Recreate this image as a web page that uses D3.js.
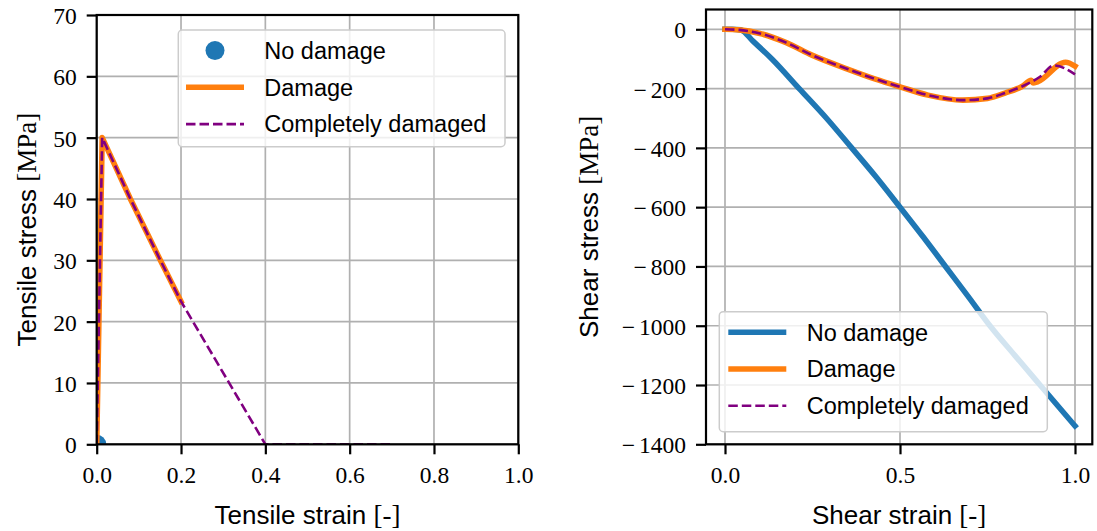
<!DOCTYPE html>
<html>
<head>
<meta charset="utf-8">
<script src="https://cdn.jsdelivr.net/npm/d3@7"></script>
<style>
    body { margin: 0; background: #fff; }
    .tick text { font-family: "Liberation Serif", serif; font-size: 23.5px; fill: #000; }
    .lbl { font-family: "Liberation Sans", sans-serif; font-size: 23.5px; fill: #000; }
    .axlbl { font-size: 26px; }
    .math { font-family: "Liberation Serif", serif; font-size: 27px; }
</style>
</head>
<body>
<script>
(function() {

    const width = 1097;
    const height = 531;

    // tensile test (left panel)
    const tensileStrainNoDamage = [0];
    const tensileStressNoDamage = [0];
    const tensileStrainDamage = [0, 0.013, 0.08, 0.151, 0.2];
    const tensileStressDamage = [0, 50, 40, 30, 23.3];
    const tensileStrainComplete = [0, 0.013, 0.08, 0.151, 0.2, 0.4, 0.7];
    const tensileStressComplete = [0, 50, 40, 30, 23.3, 0, 0];
    const tensileXTicks = [0, 0.2, 0.4, 0.6, 0.8, 1.0];
    const tensileYTicks = [0, 10, 20, 30, 40, 50, 60, 70];

    // shear test (right panel)
    const shearStrainNoDamage = [0, 0.02, 0.045, 0.08, 0.134, 0.212, 0.29, 0.362, 0.433, 0.5, 0.566, 0.63, 0.694, 0.757, 0.828, 0.9, 1.0];
    const shearStressNoDamage = [0, 0, -2, -40, -100, -200, -300, -400, -500, -600, -700, -800, -900, -1000, -1100, -1200, -1338];
    const shearStrainDamage = [0, 0.04, 0.1, 0.175, 0.25, 0.35, 0.43, 0.5, 0.58, 0.68, 0.75, 0.8, 0.85, 0.875, 0.88, 0.893, 0.973, 1.0];
    const shearStressDamage = [0, -2, -14, -45, -88, -134, -168, -194, -222, -239, -233, -215, -192, -172, -181, -177, -111, -124];
    const shearStrainComplete = [0, 0.04, 0.1, 0.175, 0.25, 0.35, 0.43, 0.5, 0.58, 0.68, 0.75, 0.8, 0.85, 0.9, 0.94, 1.0];
    const shearStressComplete = [0, -2, -14, -45, -88, -134, -168, -194, -222, -239, -233, -215, -192, -160, -122, -152];
    const shearXTicks = [0, 0.5, 1.0];
    const shearYTicks = [0, -200, -400, -600, -800, -1000, -1200, -1400];

    const seriesNames = ["No damage", "Damage", "Completely damaged"];
    const blue = "#1f77b4", orange = "#ff7f0e", purple = "#800080";

    const svg = d3.select("body")
        .append("svg")
        .attr("width", width)
        .attr("height", height);

    function zip(xs, ys) {
        return xs.map((v, i) => [v, ys[i]]);
    }

    function makePanel(opts) {
        const b = opts.box;
        const x = d3.scaleLinear().domain(opts.xDomain).range([b.x0, b.x1]);
        const y = d3.scaleLinear().domain(opts.yDomain).range([b.y1, b.y0]);

        const g = svg.append("g");

        // grid
        g.append("g").selectAll("line")
            .data(opts.xTicks).enter().append("line")
            .attr("x1", d => x(d)).attr("x2", d => x(d))
            .attr("y1", b.y0).attr("y2", b.y1)
            .attr("stroke", "#b0b0b0").attr("stroke-width", 1.7);
        g.append("g").selectAll("line")
            .data(opts.yTicks).enter().append("line")
            .attr("x1", b.x0).attr("x2", b.x1)
            .attr("y1", d => y(d)).attr("y2", d => y(d))
            .attr("stroke", "#b0b0b0").attr("stroke-width", 1.7);

        // clip to axes
        svg.append("clipPath").attr("id", opts.id + "-clip")
            .append("rect")
            .attr("x", b.x0).attr("y", b.y0)
            .attr("width", b.x1 - b.x0).attr("height", b.y1 - b.y0);
        const plot = g.append("g").attr("clip-path", "url(#" + opts.id + "-clip)");

        const line = d3.line()
            .x(d => x(d[0]))
            .y(d => y(d[1]))
            .curve(opts.curve);

        opts.series.forEach(s => {
            if (s.marker) {
                plot.selectAll(null)
                    .data(s.data).enter().append("circle")
                    .attr("cx", d => x(d[0])).attr("cy", d => y(d[1]))
                    .attr("r", 9.5).attr("fill", s.color);
            } else {
                plot.append("path")
                    .datum(s.data)
                    .attr("d", line)
                    .attr("fill", "none")
                    .attr("stroke", s.color)
                    .attr("stroke-width", s.width)
                    .attr("stroke-linejoin", "round")
                    .attr("stroke-linecap", s.dash ? "butt" : "square")
                    .attr("stroke-dasharray", s.dash || null);
            }
        });

        // axes
        const xAxis = g.append("g")
            .attr("transform", "translate(0," + b.y1 + ")")
            .call(d3.axisBottom(x).tickValues(opts.xTicks).tickSize(10).tickFormat(d3.format(".1f")));
        xAxis.selectAll("text").attr("y", 39).attr("dy", null);

        const yAxis = g.append("g")
            .attr("transform", "translate(" + b.x0 + ",0)")
            .call(d3.axisLeft(y).tickValues(opts.yTicks).tickSize(10).tickPadding(10).tickFormat(""));
        // wide TeX-like minus sign, kept in the same text node
        yAxis.selectAll(".tick text").each(function(d) {
            const t = d3.select(this).attr("dy", "0.36em");
            if (d < 0) {
                t.append("tspan").text("\u2212");
                t.append("tspan").attr("dx", 4).text(String(Math.abs(d)));
            } else {
                t.text(String(d));
            }
        });

        [xAxis, yAxis].forEach(a => {
            a.select(".domain").remove();
            a.selectAll(".tick line").attr("stroke", "#000").attr("stroke-width", 2.2);
        });

        // spines
        g.append("rect")
            .attr("x", b.x0).attr("y", b.y0)
            .attr("width", b.x1 - b.x0).attr("height", b.y1 - b.y0)
            .attr("fill", "none").attr("stroke", "#000").attr("stroke-width", 2.2);

        // axis labels
        const xl = g.append("text").attr("class", "lbl axlbl")
            .attr("x", (b.x0 + b.x1) / 2).attr("y", 524)
            .attr("text-anchor", "middle");
        xl.append("tspan").text(opts.xLabel + " ");
        xl.append("tspan").attr("class", "math").text("[-]");

        const yl = g.append("text").attr("class", "lbl axlbl")
            .attr("transform", "translate(" + opts.yLabelX + "," + (b.y0 + b.y1) / 2 + ") rotate(-90)")
            .attr("text-anchor", "middle");
        yl.append("tspan").text(opts.yLabel + " ");
        yl.append("tspan").attr("class", "math").text("[MPa]");

        // legend
        const lg = opts.legend;
        const leg = g.append("g");
        leg.append("rect")
            .attr("x", lg.x0).attr("y", lg.y0)
            .attr("width", lg.x1 - lg.x0).attr("height", lg.y1 - lg.y0)
            .attr("rx", 4)
            .attr("fill", "#fff").attr("fill-opacity", 0.8)
            .attr("stroke", "#cccccc").attr("stroke-width", 1.5);

        const rows = leg.selectAll("g.row")
            .data(opts.series).enter().append("g")
            .attr("class", "row")
            .attr("transform", (d, i) => "translate(0," + (lg.y0 + 20.5 + i * 36.8) + ")");

        rows.each(function(s) {
            const r = d3.select(this);
            if (s.marker) {
                r.append("circle").attr("cx", lg.hx + 29).attr("cy", 0).attr("r", 9.5).attr("fill", s.color);
            } else {
                r.append("line")
                    .attr("x1", lg.hx).attr("x2", lg.hx + 58)
                    .attr("y1", 0).attr("y2", 0)
                    .attr("stroke", s.color)
                    .attr("stroke-width", s.width)
                    .attr("stroke-dasharray", s.dash || null);
            }
            r.append("text").attr("class", "lbl")
                .attr("x", lg.tx).attr("y", 8.3)
                .text(s.name);
        });
    }

    // left: tensile
    makePanel({
        id: "tensile",
        box: {x0: 96.7, x1: 518.3, y0: 15, y1: 444.3},
        xDomain: [0, 1],
        yDomain: [0, 70],
        xTicks: tensileXTicks,
        yTicks: tensileYTicks,
        curve: d3.curveLinear,
        xLabel: "Tensile strain",
        yLabel: "Tensile stress",
        yLabelX: 36,
        legend: {x0: 178.3, x1: 505, y0: 30, y1: 146.7, hx: 186, tx: 264.3},
        series: [
            {name: seriesNames[0], color: blue, marker: true, data: zip(tensileStrainNoDamage, tensileStressNoDamage)},
            {name: seriesNames[1], color: orange, width: 5.6, data: zip(tensileStrainDamage, tensileStressDamage)},
            {name: seriesNames[2], color: purple, width: 2.6, dash: "9.5,4", data: zip(tensileStrainComplete, tensileStressComplete)}
        ]
    });

    // right: shear
    makePanel({
        id: "shear",
        box: {x0: 706, x1: 1092.3, y0: 9.5, y1: 444.3},
        xDomain: [-19 / 350, 1 + 17.3 / 350],
        yDomain: [-1400, 66.8],
        xTicks: shearXTicks,
        yTicks: shearYTicks,
        curve: d3.curveMonotoneX,
        xLabel: "Shear strain",
        yLabel: "Shear stress",
        yLabelX: 598,
        legend: {x0: 719.3, x1: 1047.3, y0: 311.7, y1: 431.7, hx: 728.3, tx: 806.7},
        series: [
            {name: seriesNames[0], color: blue, width: 5.6, data: zip(shearStrainNoDamage, shearStressNoDamage)},
            {name: seriesNames[1], color: orange, width: 5.6, data: zip(shearStrainDamage, shearStressDamage)},
            {name: seriesNames[2], color: purple, width: 2.6, dash: "9.5,4", data: zip(shearStrainComplete, shearStressComplete)}
        ]
    });

})();
</script>
</body>
</html>
